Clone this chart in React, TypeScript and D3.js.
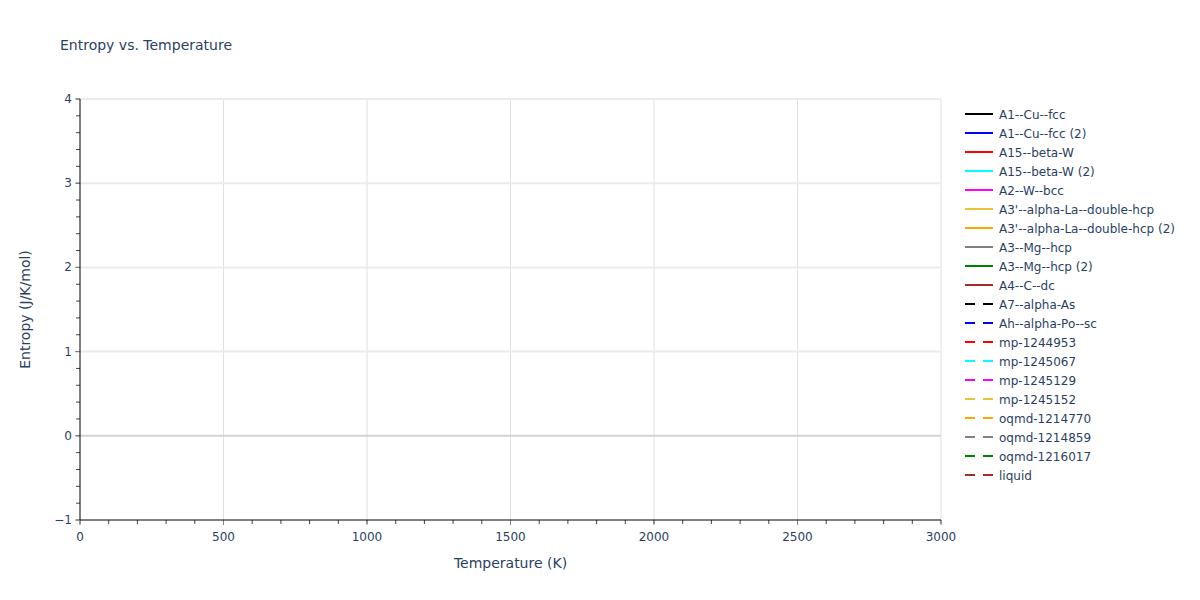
import * as d3 from 'd3';
import { useEffect, useRef } from 'react';

const seriesNames = [
  'A1--Cu--fcc',
  'A1--Cu--fcc (2)',
  'A15--beta-W',
  'A15--beta-W (2)',
  'A2--W--bcc',
  "A3'--alpha-La--double-hcp",
  "A3'--alpha-La--double-hcp (2)",
  'A3--Mg--hcp',
  'A3--Mg--hcp (2)',
  'A4--C--dc',
  'A7--alpha-As',
  'Ah--alpha-Po--sc',
  'mp-1244953',
  'mp-1245067',
  'mp-1245129',
  'mp-1245152',
  'oqmd-1214770',
  'oqmd-1214859',
  'oqmd-1216017',
  'liquid',
];

const seriesColors = [
  'black', 'blue', 'red', 'cyan', 'magenta', '#ecc133', 'orange', 'gray', 'green', 'brown',
  'black', 'blue', 'red', 'cyan', 'magenta', '#ecc133', 'orange', 'gray', 'green', 'brown',
];

const seriesDashed = seriesNames.map((_, i) => i >= 10);

// no points are drawn in the reference: every series is empty
const temperatures: number[] = [];
const entropyValues: number[][] = seriesNames.map(() => []);

const xTicks = [0, 500, 1000, 1500, 2000, 2500, 3000];
const yTicks = [-1, 0, 1, 2, 3, 4];

const W = 1200;
const H = 600;
const margin = { top: 99, right: 259, bottom: 80, left: 80 };
const font = '"DejaVu Sans", Verdana, sans-serif';
const textColor = '#2a3f5f';

export default function App() {
  const ref = useRef<SVGSVGElement>(null);

  useEffect(() => {
    const svg = d3.select(ref.current);
    svg.selectAll('*').remove();

    const iw = W - margin.left - margin.right;
    const ih = H - margin.top - margin.bottom;

    const x = d3.scaleLinear().domain([0, 3000]).range([0, iw]);
    const y = d3.scaleLinear().domain([-1, 4]).range([ih, 0]);

    svg.append('rect').attr('width', W).attr('height', H).attr('fill', 'white');

    svg
      .append('text')
      .attr('x', 60)
      .attr('y', 50)
      .attr('font-family', font)
      .attr('font-size', 14)
      .attr('fill', textColor)
      .text('Entropy vs. Temperature');

    const g = svg.append('g').attr('transform', `translate(${margin.left},${margin.top})`);

    // grid
    g.selectAll('.vgrid')
      .data(xTicks.filter((t) => t > 0))
      .enter()
      .append('line')
      .attr('x1', (d) => x(d))
      .attr('x2', (d) => x(d))
      .attr('y1', 0)
      .attr('y2', ih)
      .attr('stroke', '#e0e0e0')
      .attr('stroke-width', 1);

    g.selectAll('.hgrid')
      .data(yTicks.filter((t) => t !== 0 && t !== -1))
      .enter()
      .append('line')
      .attr('x1', 0)
      .attr('x2', iw)
      .attr('y1', (d) => y(d))
      .attr('y2', (d) => y(d))
      .attr('stroke', '#ebebeb')
      .attr('stroke-width', 2);

    // zero line
    g.append('line')
      .attr('x1', 0)
      .attr('x2', iw)
      .attr('y1', y(0))
      .attr('y2', y(0))
      .attr('stroke', '#d3d3d3')
      .attr('stroke-width', 2);

    // series lines (empty)
    const line = d3
      .line<number>()
      .x((_, i) => x(temperatures[i]))
      .y((d) => y(d));
    entropyValues.forEach((vals, i) => {
      g.append('path')
        .datum(vals)
        .attr('d', line)
        .attr('fill', 'none')
        .attr('stroke', seriesColors[i])
        .attr('stroke-width', 2)
        .attr('stroke-dasharray', seriesDashed[i] ? '10,8' : null);
    });

    // minor ticks
    const xMinor = d3.range(0, 3001, 100);
    const yMinor = d3.range(-1, 4.001, 0.2);

    const xAxis = g.append('g').attr('transform', `translate(0,${ih})`);
    xAxis
      .selectAll('.minor')
      .data(xMinor)
      .enter()
      .append('line')
      .attr('x1', (d) => x(d))
      .attr('x2', (d) => x(d))
      .attr('y1', 0)
      .attr('y2', 4)
      .attr('stroke', '#444');
    xAxis
      .selectAll('.major')
      .data(xTicks)
      .enter()
      .append('line')
      .attr('x1', (d) => x(d))
      .attr('x2', (d) => x(d))
      .attr('y1', 0)
      .attr('y2', 5)
      .attr('stroke', '#888');
    xAxis
      .selectAll('text')
      .data(xTicks)
      .enter()
      .append('text')
      .attr('x', (d) => x(d))
      .attr('y', 21)
      .attr('text-anchor', 'middle')
      .attr('font-family', font)
      .attr('font-size', 12)
      .attr('fill', textColor)
      .text((d) => d3.format('d')(d));
    xAxis
      .append('line')
      .attr('x1', 0)
      .attr('x2', iw)
      .attr('stroke', 'black')
      .attr('stroke-width', 1);

    const yAxis = g.append('g');
    yAxis
      .selectAll('.minor')
      .data(yMinor)
      .enter()
      .append('line')
      .attr('x1', -4)
      .attr('x2', 0)
      .attr('y1', (d) => y(d))
      .attr('y2', (d) => y(d))
      .attr('stroke', '#444');
    yAxis
      .selectAll('.major')
      .data(yTicks)
      .enter()
      .append('line')
      .attr('x1', -5)
      .attr('x2', 0)
      .attr('y1', (d) => y(d))
      .attr('y2', (d) => y(d))
      .attr('stroke', '#888');
    yAxis
      .selectAll('text')
      .data(yTicks)
      .enter()
      .append('text')
      .attr('x', -8)
      .attr('y', (d) => y(d) + 4)
      .attr('text-anchor', 'end')
      .attr('font-family', font)
      .attr('font-size', 12)
      .attr('fill', textColor)
      .text((d) => d3.format('d')(d));
    yAxis
      .append('line')
      .attr('y1', 0)
      .attr('y2', ih)
      .attr('stroke', 'black')
      .attr('stroke-width', 1);

    // axis titles
    svg
      .append('text')
      .attr('x', margin.left + iw / 2)
      .attr('y', 568)
      .attr('text-anchor', 'middle')
      .attr('font-family', font)
      .attr('font-size', 14)
      .attr('fill', textColor)
      .text('Temperature (K)');
    svg
      .append('text')
      .attr('transform', `translate(30,${margin.top + ih / 2}) rotate(-90)`)
      .attr('text-anchor', 'middle')
      .attr('font-family', font)
      .attr('font-size', 14)
      .attr('fill', textColor)
      .text('Entropy (J/K/mol)');

    // legend
    const legend = svg.append('g').attr('transform', 'translate(965,114)');
    seriesNames.forEach((name, i) => {
      const row = legend.append('g').attr('transform', `translate(0,${i * 19})`);
      row
        .append('line')
        .attr('x1', 0)
        .attr('x2', 28)
        .attr('stroke', seriesColors[i])
        .attr('stroke-width', 2)
        .attr('stroke-dasharray', seriesDashed[i] ? '10,8' : null);
      row
        .append('text')
        .attr('x', 34)
        .attr('y', 4.5)
        .attr('font-family', font)
        .attr('font-size', 12)
        .attr('fill', textColor)
        .text(name);
    });
  }, []);

  return (
    <svg
      ref={ref}
      width={W}
      height={H}
      style={{ position: 'absolute', left: 0, top: 0, display: 'block' }}
    />
  );
}
